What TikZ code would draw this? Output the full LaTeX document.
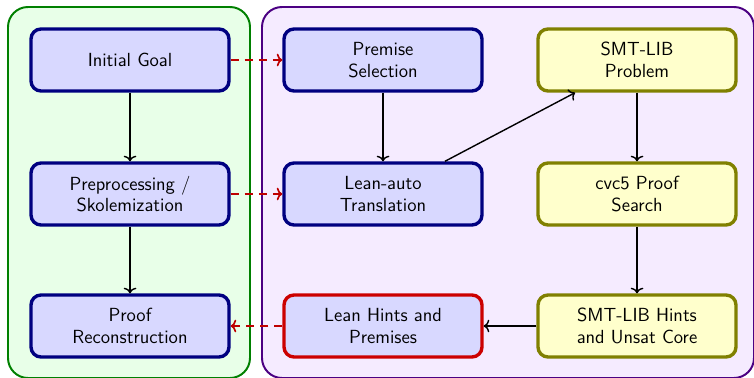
\documentclass[tikz,border=0pt]{standalone}
\usepackage{tikz}
\usetikzlibrary{arrows.meta,positioning,calc}
\renewcommand{\familydefault}{\sfdefault}
\definecolor{leanblue}{RGB}{0,0,128}
\definecolor{leanfill}{RGB}{216,216,255}
\definecolor{smtolive}{RGB}{128,128,0}
\definecolor{smtfill}{RGB}{255,255,204}
\definecolor{hintred}{RGB}{204,0,0}
\definecolor{linkred}{RGB}{190,0,0}
\definecolor{grpgreen}{RGB}{0,128,0}
\definecolor{grpgreenfill}{RGB}{232,255,232}
\definecolor{grppurple}{RGB}{75,0,130}
\definecolor{grppurplefill}{RGB}{245,235,255}

\begin{document}
\begin{tikzpicture}[font=\fontsize{13.5}{15.5}\selectfont,
          box/.style={rectangle,rounded corners=0.25cm,line width=2.4pt,minimum width=4.95cm,minimum height=1.55cm,align=center},
          leanbox/.style={box,draw=leanblue,fill=leanfill},
          smtbox/.style={box,draw=smtolive,fill=smtfill},
          flow/.style={-{To[length=4pt,width=9pt]},line width=1pt},
          link/.style={-{To[length=4pt,width=9pt]},line width=1.2pt,dashed,dash pattern=on 6pt off 4pt,linkred}]
        \useasboundingbox (0,0) rectangle (18.85,-9.45);

        % groups
        \draw[grpgreen,fill=grpgreenfill,line width=1.4pt,rounded corners=0.5cm] (0.2,-0.175) rectangle (6.25,-9.45);
        \draw[grppurple,fill=grppurplefill,line width=1.4pt,rounded corners=0.5cm] (6.55,-0.175) rectangle (18.85,-9.45);

        \node[leanbox] (goal) at (3.25,-1.5) {Initial Goal};
        \node[leanbox] (prep) at (3.25,-4.85) {Preprocessing /\\Skolemization};
        \node[leanbox] (recon) at (3.25,-8.15) {Proof\\Reconstruction};

        \node[leanbox] (prem) at (9.575,-1.5) {Premise\\Selection};
        \node[leanbox] (trans) at (9.575,-4.85) {Lean-auto\\Translation};
        \node[leanbox,draw=hintred] (lhints) at (9.575,-8.15) {Lean Hints and\\Premises};

        \node[smtbox] (smt) at (15.925,-1.5) {SMT-LIB\\Problem};
        \node[smtbox] (cvc) at (15.925,-4.85) {cvc5 Proof\\Search};
        \node[smtbox] (shints) at (15.925,-8.15) {SMT-LIB Hints\\and Unsat Core};

        \draw[flow] (goal) -- (prep);
        \draw[flow] (prep) -- (recon);
        \draw[flow] (prem) -- (trans);
        \draw[flow] (trans) -- (smt);
        \draw[flow] (smt) -- (cvc);
        \draw[flow] (cvc) -- (shints);
        \draw[flow] (shints) -- (lhints);

        \draw[link] (goal) -- (prem);
        \draw[link] (prep) -- (trans);
        \draw[link] (lhints) -- (recon);
      \end{tikzpicture}
\end{document}
